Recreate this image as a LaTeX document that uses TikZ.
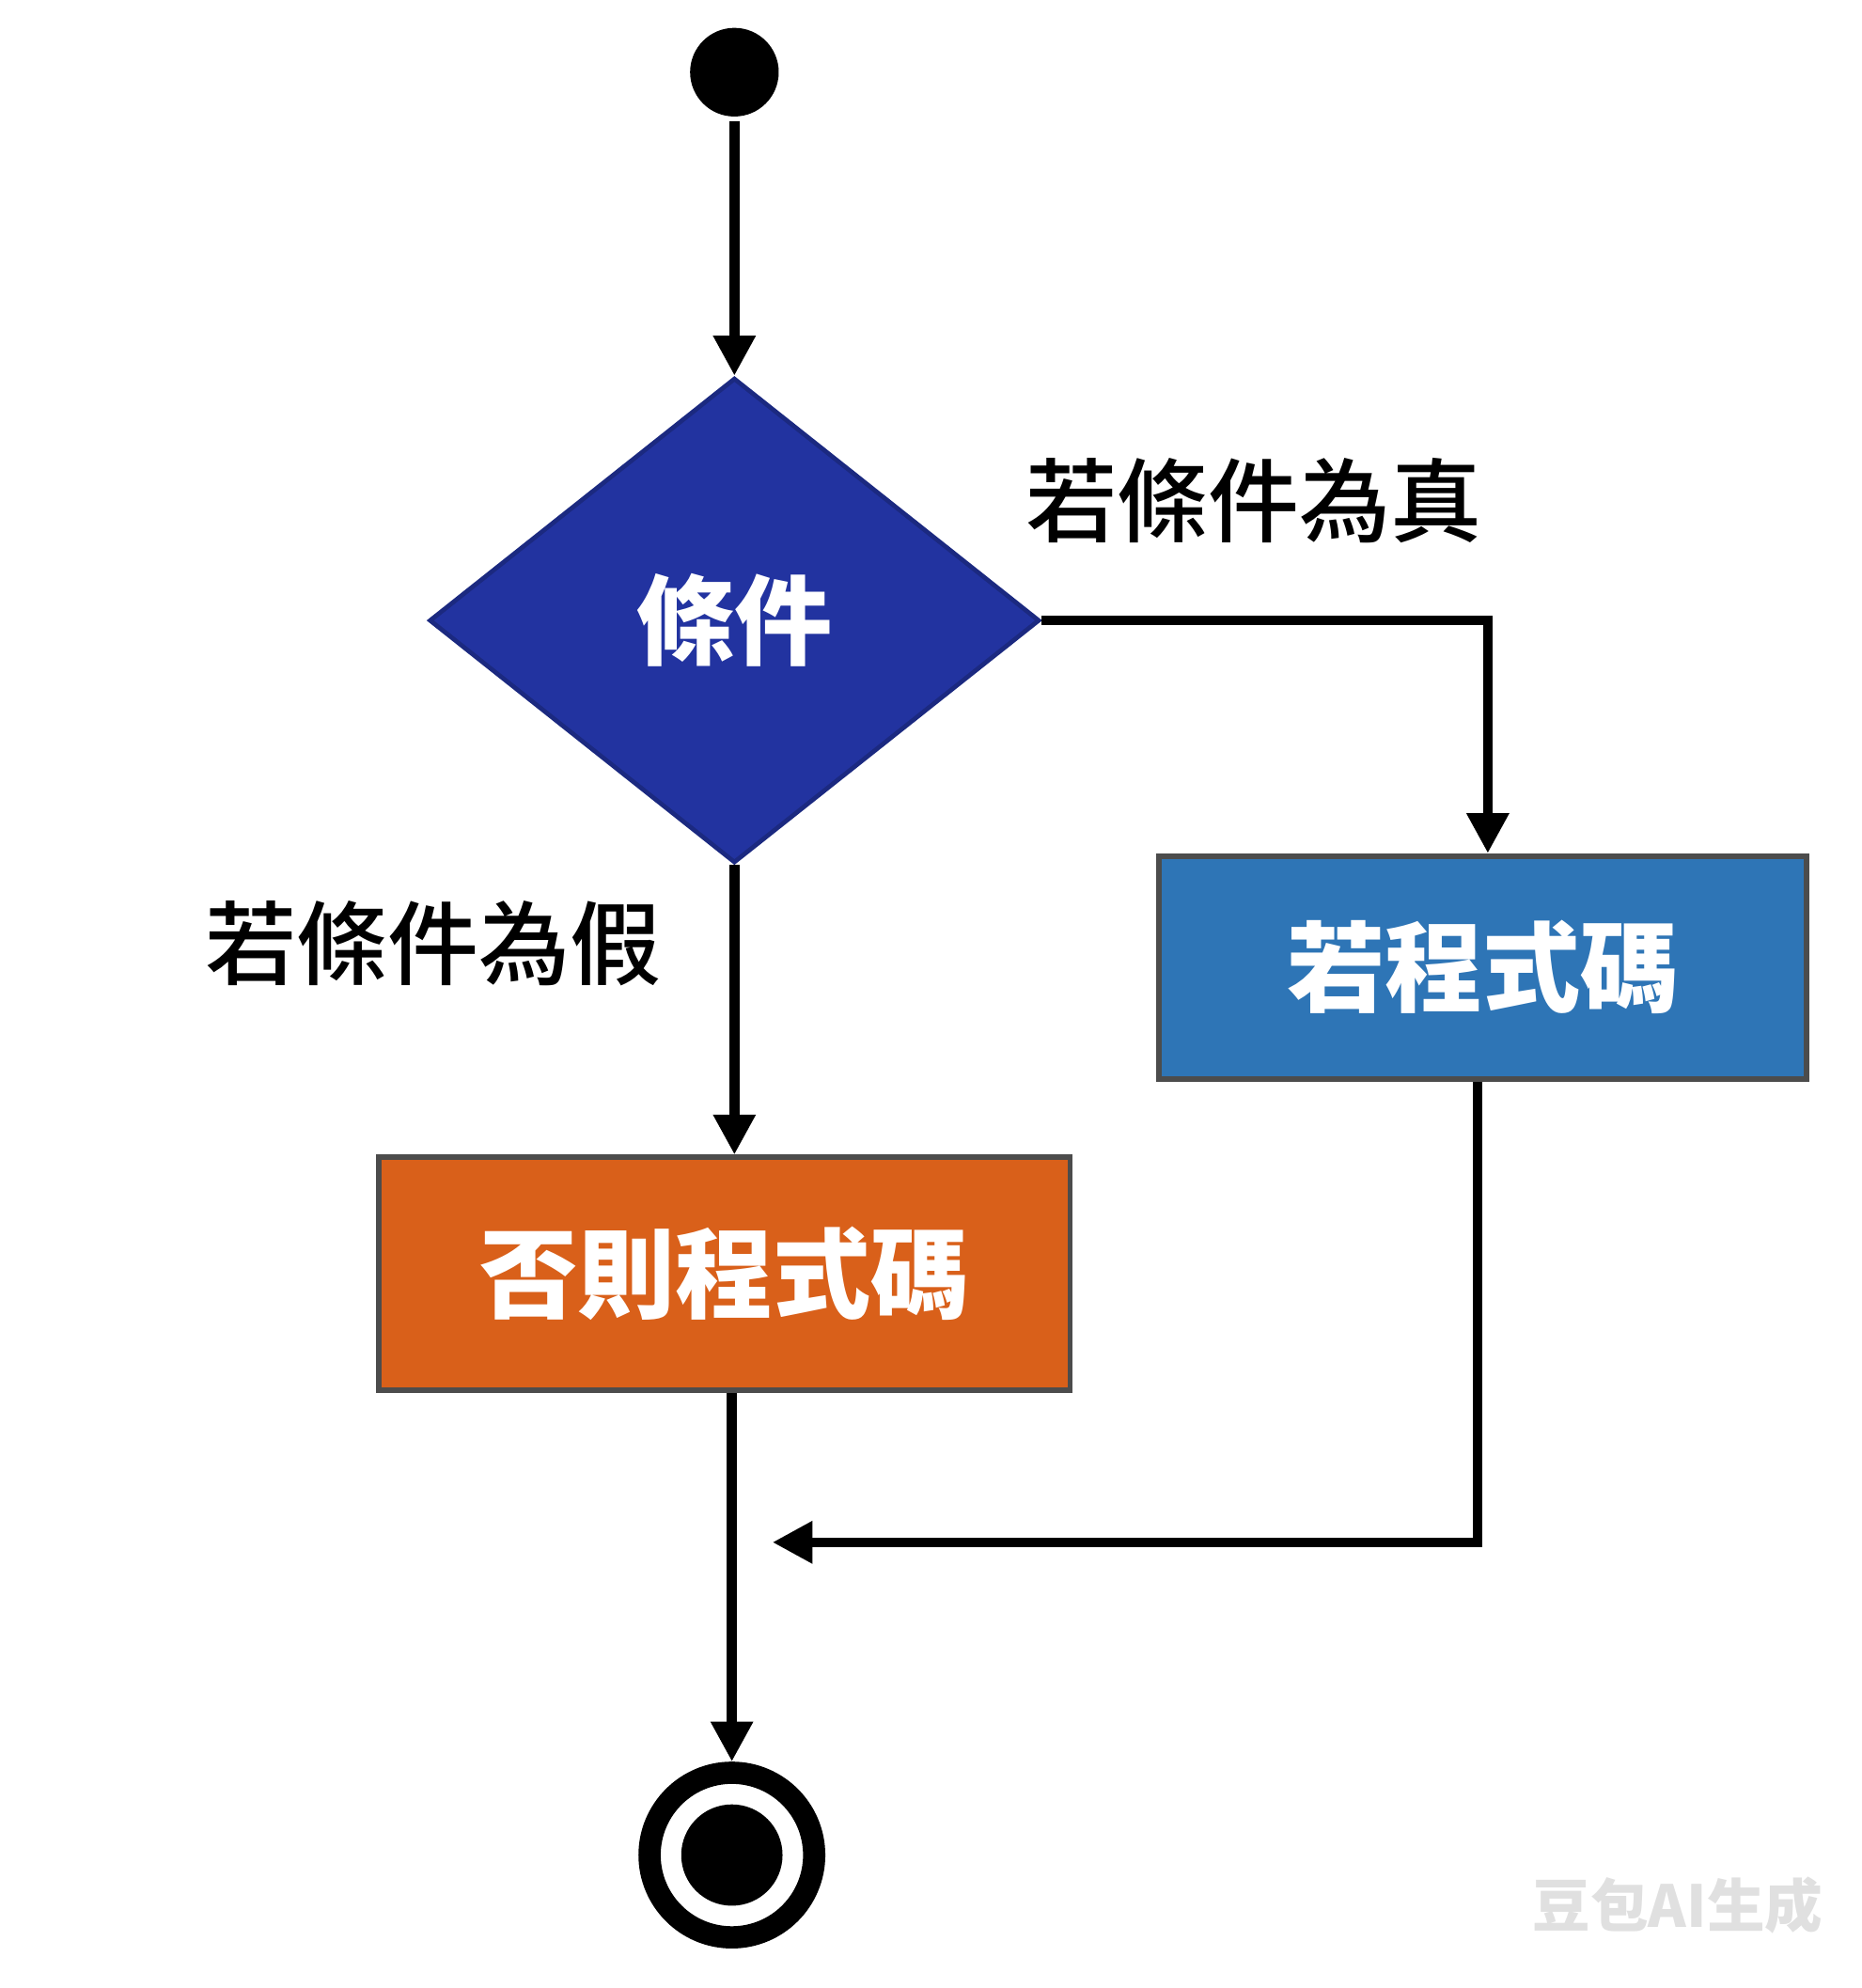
\documentclass[tikz,border=0pt]{standalone}
\usepackage{fontspec}
\newfontfamily\cjk{Noto Sans CJK TC}
\newfontfamily\cjkmid{Noto Sans CJK TC Medium}
\usetikzlibrary{arrows.meta, shapes.geometric}
\definecolor{condblue}{HTML}{2233A0}
\definecolor{ifblue}{HTML}{2E75B6}
\definecolor{elseorange}{HTML}{D9601A}
\begin{document}
\begin{tikzpicture}[line width=2.2pt, >={Triangle[length=9pt,width=9pt]}]
    \tikzstyle{box}=[rectangle, draw=black!70, line width=1.2pt, text=white, font=\cjk\bfseries\fontsize{22}{26}\selectfont, inner sep=0pt]
    \tikzstyle{cond}=[diamond, fill=condblue, draw=condblue!80!black, line width=1pt, minimum width=4.82cm, minimum height=3.83cm, inner sep=0pt, text=white, font=\cjk\bfseries\fontsize{22}{26}\selectfont]
    \tikzstyle{lab}=[font=\cjkmid\fontsize{20.5}{24}\selectfont]
    \useasboundingbox (0,0) rectangle (14.7,-15.7);

    % Start and condition
    \node[circle, fill=black, minimum size=0.7cm, inner sep=0pt] (start) at (5.8,-0.57) {};
    \node[cond] (cond) at (5.8,-4.9) {條件};

    % Branch boxes
    \node[box, fill=ifblue, minimum width=5.11cm, minimum height=1.76cm] (ifcode) at (11.71,-7.64) {若程式碼};
    \node[box, fill=elseorange, minimum width=5.46cm, minimum height=1.84cm] (elsecode) at (5.72,-10.06) {否則程式碼};

    % End
    \node[circle, draw=black, line width=5pt, minimum size=1.3cm, inner sep=0pt] (end) at (5.78,-14.65) {};
    \node[circle, fill=black, minimum size=0.8cm, inner sep=0pt] (endin) at (end) {};

    \coordinate (turn) at (11.75,-4.9);
    \coordinate (low) at (11.67,-12.18);
    \coordinate (merge) at (6.1,-12.18);

    \draw[->] (start) -- (cond);
    \draw[->] (cond.east) -- (turn) -- (ifcode.north -| turn);
    \draw[->] (cond.south) -- (elsecode.north -| cond.south);
    \draw[->] (elsecode.south -| end) -- (end);
    \draw[->] (ifcode.south -| low) -- (low) -- (merge);

    \node[lab] (truelab) at (9.9,-3.95) {若條件為真};
    \node[lab] (falselab) at (3.42,-7.45) {若條件為假};
    \node[text=black!12, font=\cjk\bfseries\fontsize{13}{15}\selectfont] (mark) at (13.25,-15.05) {豆包AI生成};
\end{tikzpicture}
\end{document}
